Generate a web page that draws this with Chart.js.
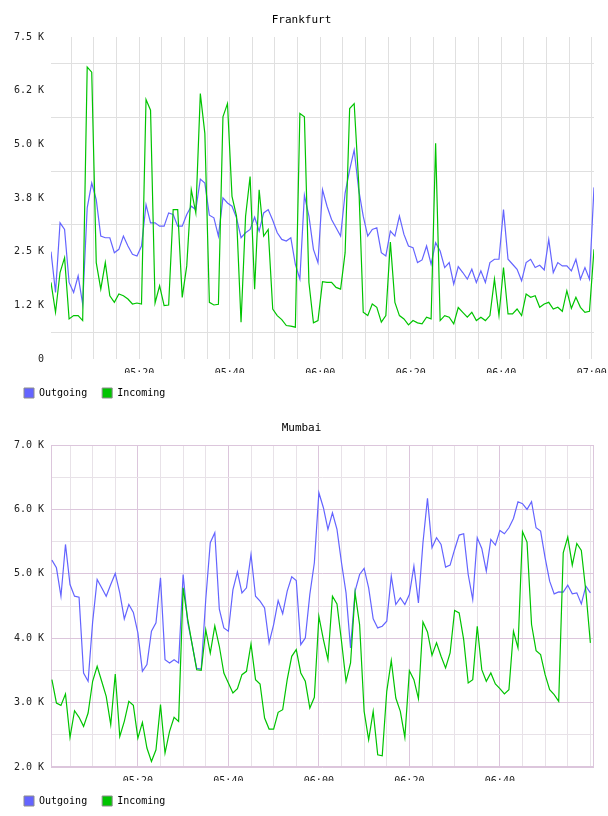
<!DOCTYPE html>
<html>
<head>
<meta charset="utf-8">
<title>Frankfurt / Mumbai traffic</title>
<script src="https://cdn.jsdelivr.net/npm/chart.js@4.4.0/dist/chart.umd.min.js"></script>
<style>
    html, body { margin: 0; padding: 0; background: #fff; }
    .panel { position: absolute; left: 0; width: 608px; height: 408px; }
</style>
</head>
<body>
<div class="panel" style="top:0"><canvas id="frankfurt"></canvas></div>
<div class="panel" style="top:408px"><canvas id="mumbai"></canvas></div>
<script>
// Series labels
const seriesNames = ['Outgoing', 'Incoming'];

// Frankfurt: one sample per minute, first sample at 05:00:30
const frankfurtStart = 0.5;
const frankfurtOut = [
    2500, 1551, 3172, 3017, 1783, 1551, 1937, 1281, 3519, 4098,
    3712, 2863, 2824, 2824, 2477, 2554, 2863, 2632, 2439, 2400,
    2632, 3596, 3172, 3172, 3095, 3095, 3403, 3365, 3095, 3095,
    3365, 3558, 3480, 4190, 4098, 3349, 3288, 2863, 3751, 3635,
    3558, 3288, 2824, 2940, 3017, 3303, 2979, 3403, 3480, 3233,
    2940, 2786, 2747, 2824, 2207, 1860, 3812, 3326, 2554, 2246,
    3943, 3558, 3249, 3056, 2863, 3866, 4406, 4869, 3943, 3326,
    2863, 3017, 3056, 2477, 2400, 2979, 2863, 3326, 2902, 2632,
    2593, 2246, 2307, 2632, 2207, 2709, 2516, 2130, 2246, 1744,
    2150, 2014, 1860, 2091, 1783, 2053, 1783, 2246, 2323, 2323,
    3480, 2323, 2207, 2091, 1821, 2246, 2323, 2130, 2184, 2076,
    2786, 2014, 2246, 2169, 2169, 2053, 2323, 1860, 2130, 1860,
    3997
];
const frankfurtIn = [
    1783, 1088, 2014, 2361, 934, 1011, 1011, 895, 6798, 6682,
    2246, 1628, 2246, 1474, 1320, 1513, 1474, 1397, 1281, 1304,
    1281, 6042, 5795, 1304, 1705, 1242, 1258, 3480, 3480, 1436,
    2169, 3943, 3403, 6181, 5255, 1320, 1258, 1273, 5641, 5949,
    3789, 3326, 857, 3326, 4252, 1628, 3943, 2863, 3017, 1165,
    1011, 919, 780, 764, 741, 5718, 5641, 1783, 841, 895,
    1800, 1783, 1783, 1667, 1628, 2477, 5834, 5949, 4098, 1088,
    1011, 1281, 1204, 857, 1011, 2724, 1320, 1011, 934, 795,
    895, 841, 818, 973, 934, 5024, 895, 1011, 973, 818,
    1200, 1088, 973, 1088, 895, 973, 895, 1011, 1860, 1011,
    2130, 1049, 1049, 1165, 1011, 1513, 1436, 1474, 1204, 1281,
    1320, 1165, 1204, 1111, 1590, 1181, 1436, 1204, 1088, 1111,
    2554
];

// Mumbai: one sample per minute, first sample at 05:01
const mumbaiStart = 1;
const mumbaiOut = [
    5212, 5093, 4652, 5456, 4834, 4652, 4637, 3460, 3331, 4250,
    4912, 4782, 4652, 4834, 5005, 4704, 4300, 4523, 4400, 4082,
    3486, 3590, 4108, 4238, 4938, 3667, 3616, 3667, 3616, 4989,
    4250, 3900, 3530, 3520, 4600, 5482, 5637, 4450, 4160, 4108,
    4750, 5031, 4704, 4782, 5300, 4652, 4575, 4471, 3927, 4212,
    4585, 4380, 4730, 4953, 4896, 3900, 4004, 4680, 5171, 6259,
    6026, 5689, 5948, 5689, 5171, 4704, 3850, 4730, 4989, 5083,
    4782, 4300, 4160, 4186, 4264, 4963, 4523, 4627, 4523, 4678,
    5119, 4549, 5482, 6171, 5404, 5560, 5456, 5103, 5134, 5378,
    5601, 5622, 4989, 4601, 5560, 5394, 5041, 5533, 5446, 5674,
    5622, 5715, 5860, 6119, 6088, 6000, 6119, 5715, 5663, 5248,
    4886, 4689, 4720, 4715, 4824, 4689, 4704, 4533, 4808, 4704
];
const mumbaiIn = [
    3356, 2994, 2957, 3134, 2460, 2874, 2771, 2631, 2838, 3331,
    3564, 3331, 3097, 2657, 3445, 2475, 2709, 3020, 2957, 2449,
    2693, 2294, 2087, 2268, 2968, 2216, 2553, 2771, 2709, 4782,
    4300, 3900, 3510, 3500, 4130, 3770, 4190, 3875, 3460, 3305,
    3149, 3217, 3434, 3486, 3911, 3356, 3289, 2760, 2589, 2589,
    2849, 2890, 3356, 3719, 3823, 3460, 3331, 2916, 3082, 4341,
    3978, 3667, 4652, 4533, 3953, 3331, 3616, 4704, 4212, 2864,
    2423, 2864, 2190, 2175, 3175, 3652, 3071, 2864, 2460, 3496,
    3356, 3061, 4253, 4098, 3735, 3927, 3719, 3538, 3771, 4430,
    4393, 3978, 3305, 3356, 4186, 3512, 3331, 3460, 3289, 3217,
    3134, 3201, 4108, 3849, 5653, 5492, 4212, 3807, 3745, 3434,
    3201, 3123, 3020, 5326, 5570, 5134, 5471, 5362, 4730, 3927
];

// Tick labels
const timeLabelMinutes = [20, 40, 60, 80, 100, 120];
const frankfurtTimeLabels = ['05:20', '05:40', '06:00', '06:20', '06:40', '07:00'];
const mumbaiTimeLabels = ['05:20', '05:40', '06:00', '06:20', '06:40', ''];
const frankfurtYTicks = [0, 1250, 2500, 3750, 5000, 6250, 7500];
const frankfurtYLabels = ['0', '1.2 K', '2.5 K', '3.8 K', '5.0 K', '6.2 K', '7.5 K'];
const mumbaiYTicks = [2000, 3000, 4000, 5000, 6000, 7000];
const mumbaiYLabels = ['2.0 K', '3.0 K', '4.0 K', '5.0 K', '6.0 K', '7.0 K'];

// Styles
const OUT_COLOR = '#6464ff';
const IN_COLOR = '#00c400';
const FONT = "'DejaVu Sans Mono', monospace";
const GRID_GRAY = '#e0e0e0';
const GRID_MINOR = '#e8e2e8';
const GRID_MAJOR = '#dcc6dc';

function toPoints(values, start) {
    return values.map((v, i) => ({ x: start + i, y: v }));
}

// y ticks: labelled values plus the half steps between them
function withHalfSteps(values) {
    const out = [];
    values.forEach((v, i) => {
        out.push(v);
        if (i < values.length - 1) out.push((v + values[i + 1]) / 2);
    });
    return out;
}

// Frame around the plot area (Mumbai only)
const framePlugin = {
    id: 'frame',
    beforeDatasetsDraw(chart, args, opts) {
        if (!opts.color) return;
        const { left, top, right, bottom } = chart.chartArea;
        const ctx = chart.ctx;
        ctx.save();
        ctx.strokeStyle = opts.color;
        ctx.lineWidth = 1;
        ctx.strokeRect(Math.round(left) + 0.5, Math.round(top) + 0.5,
            Math.round(right - left) - 1, Math.round(bottom - top) - 1);
        ctx.restore();
    }
};

function buildChart(id, opts) {
    const ctx = document.getElementById(id).getContext('2d');
    const yGrid = withHalfSteps(opts.yTicks);

    return new Chart(ctx, {
        type: 'line',
        data: {
            datasets: [{
                label: seriesNames[0],
                data: toPoints(opts.outValues, opts.start),
                borderColor: OUT_COLOR,
                backgroundColor: OUT_COLOR,
                borderWidth: 1.2,
                pointRadius: 0,
                tension: 0,
                order: 1
            }, {
                label: seriesNames[1],
                data: toPoints(opts.inValues, opts.start),
                borderColor: IN_COLOR,
                backgroundColor: IN_COLOR,
                borderWidth: 1.2,
                pointRadius: 0,
                tension: 0,
                order: 0
            }]
        },
        options: {
            responsive: true,
            maintainAspectRatio: false,
            animation: false,
            devicePixelRatio: 1,
            layout: { padding: { left: 9, right: 14, top: 0, bottom: 0 } },
            plugins: {
                title: {
                    display: true,
                    text: opts.title,
                    color: '#000',
                    font: { family: FONT, size: 11, weight: 'normal' },
                    padding: { top: 14, bottom: 9.8 }
                },
                legend: {
                    position: 'bottom',
                    align: 'start',
                    labels: {
                        boxWidth: 10,
                        boxHeight: 10,
                        padding: 15,
                        color: '#000',
                        font: { family: FONT, size: 10 },
                        generateLabels: chart => chart.data.datasets.map((ds, i) => ({
                            text: ds.label,
                            fillStyle: ds.backgroundColor,
                            strokeStyle: '#8c8c8c',
                            lineWidth: 1,
                            datasetIndex: i,
                            hidden: false
                        }))
                    }
                },
                tooltip: { enabled: false },
                frame: { color: opts.frameColor }
            },
            scales: {
                x: {
                    type: 'linear',
                    min: opts.xMin,
                    max: opts.xMin + 120,
                    afterBuildTicks: scale => {
                        const ticks = [];
                        for (let m = 5; m <= 120; m += 5) ticks.push({ value: m });
                        scale.ticks = ticks;
                    },
                    afterFit: scale => {
                        // let the last label run past the edge, as in the original
                        scale.height = 14;
                        scale.paddingLeft = 0;
                        scale.paddingRight = 0;
                    },
                    border: { display: false },
                    grid: {
                        drawTicks: false,
                        color: c => opts.xGridColor(c.tick.value)
                    },
                    ticks: {
                        autoSkip: false,
                        maxRotation: 0,
                        padding: 8,
                        color: '#222',
                        font: { family: FONT, size: 10 },
                        callback: value => {
                            const idx = timeLabelMinutes.indexOf(value);
                            return idx >= 0 ? opts.timeLabels[idx] : '';
                        }
                    }
                },
                y: {
                    min: opts.yTicks[0],
                    max: opts.yTicks[opts.yTicks.length - 1],
                    afterBuildTicks: scale => {
                        scale.ticks = yGrid.map(v => ({ value: v }));
                    },
                    afterFit: scale => { scale.width = 42; },
                    border: { display: false },
                    grid: {
                        drawTicks: false,
                        color: c => opts.yGridColor(c.tick.value)
                    },
                    ticks: {
                        padding: 7,
                        color: '#222',
                        font: { family: FONT, size: 10 },
                        callback: value => {
                            const idx = opts.yTicks.indexOf(value);
                            return idx >= 0 ? opts.yLabels[idx] : '';
                        }
                    }
                }
            }
        },
        plugins: [framePlugin]
    });
}

buildChart('frankfurt', {
    title: 'Frankfurt',
    start: frankfurtStart,
    outValues: frankfurtOut,
    inValues: frankfurtIn,
    xMin: 0.5,
    timeLabels: frankfurtTimeLabels,
    yTicks: frankfurtYTicks,
    yLabels: frankfurtYLabels,
    xGridColor: () => GRID_GRAY,
    yGridColor: v => frankfurtYTicks.includes(v) ? 'rgba(0,0,0,0)' : GRID_GRAY,
    frameColor: null
});

buildChart('mumbai', {
    title: 'Mumbai',
    start: mumbaiStart,
    outValues: mumbaiOut,
    inValues: mumbaiIn,
    xMin: 0.8,
    timeLabels: mumbaiTimeLabels,
    yTicks: mumbaiYTicks,
    yLabels: mumbaiYLabels,
    xGridColor: v => (v % 20 === 0 && v < 120) ? GRID_MAJOR : GRID_MINOR,
    yGridColor: v => mumbaiYTicks.includes(v) ? GRID_MAJOR : GRID_MINOR,
    frameColor: GRID_MAJOR
});
</script>
</body>
</html>
